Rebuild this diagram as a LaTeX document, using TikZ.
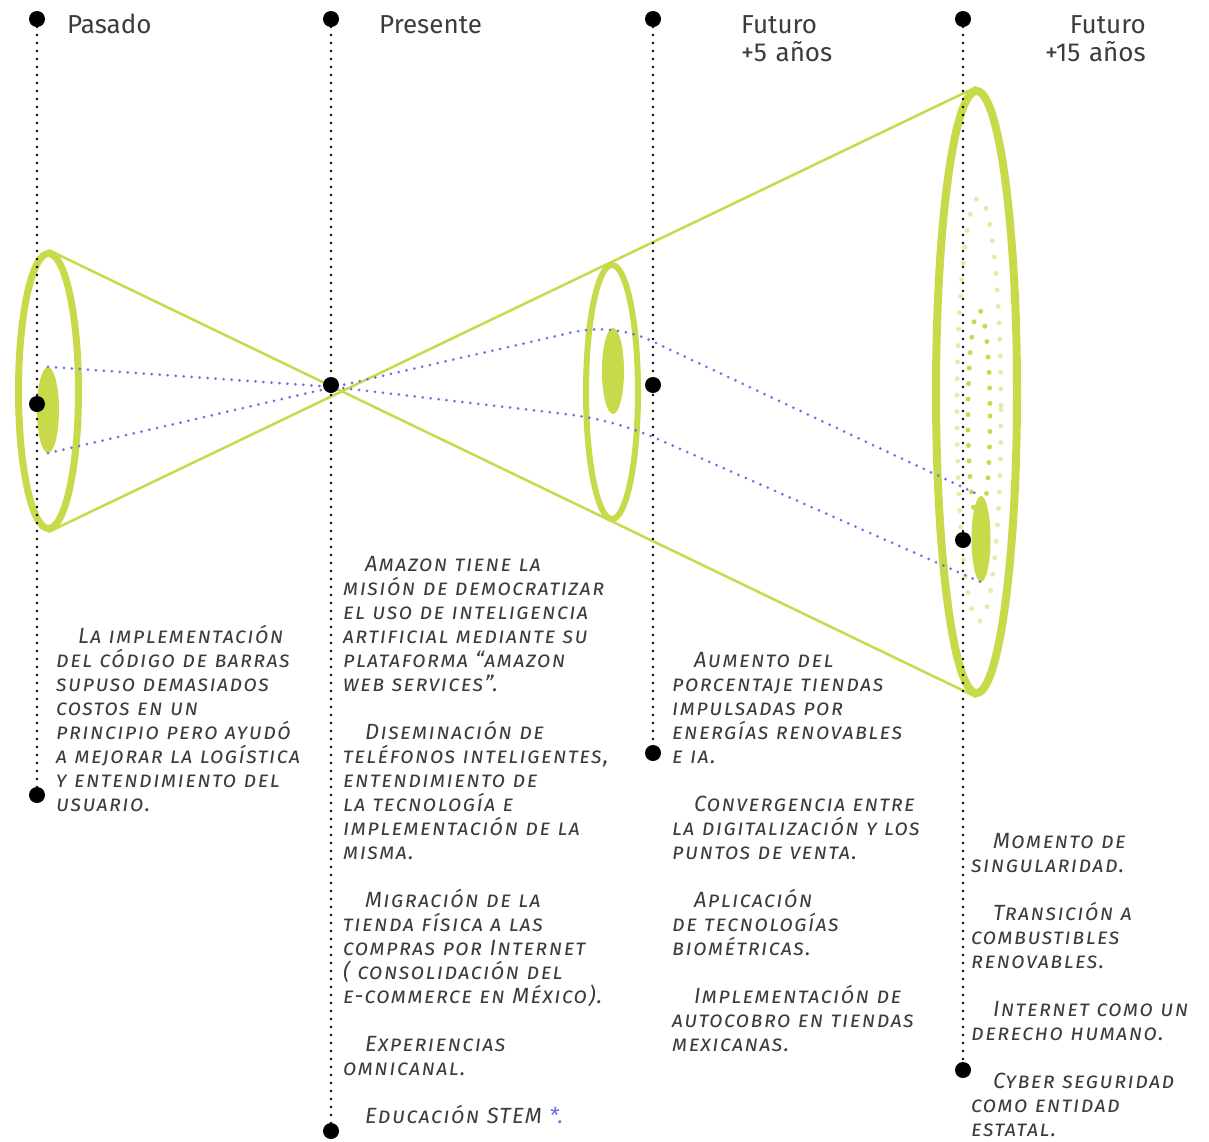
\documentclass[tikz,border=0pt]{standalone}
\usepackage{fontspec}
\setmainfont{Fira Sans}
\usetikzlibrary{shapes.geometric}
\definecolor{lime}{RGB}{200, 218, 74}
\definecolor{limelight}{RGB}{226, 236, 172}
\definecolor{trendblue}{RGB}{104, 114, 232}
\definecolor{ink}{RGB}{60, 60, 60}

\begin{document}
\begin{tikzpicture}[x=1pt,y=-1pt]
    \tikzstyle{hito} = [circle, fill=black, inner sep=0pt, minimum size=16pt];
    \tikzstyle{timeline} = [draw=black, line width=2.6pt, line cap=round, dash pattern=on 0pt off 8pt];
    \tikzstyle{ring} = [ellipse, draw=lime, inner sep=0pt];
    \tikzstyle{core} = [ellipse, fill=lime, inner sep=0pt, minimum width=22pt, minimum height=86pt];
    \tikzstyle{cone} = [draw=lime, line width=2.5pt];
    \tikzstyle{dotring} = [line width=5pt, line cap=round];
    \tikzstyle{trend} = [draw=trendblue, line width=3pt, line cap=round, dash pattern=on 0pt off 8pt];
    \tikzstyle{era} = [font=\fontsize{26}{28}\selectfont, text=ink, inner sep=0pt, align=left];
    \tikzstyle{note} = [font=\fontsize{22}{24}\selectfont\itshape\scshape\addfontfeature{LetterSpace=6},
    text=ink, align=left, text width=320pt, inner sep=0pt, anchor=base west];
    \useasboundingbox (0,0) rectangle (1209,1141);

    % rings of the cone
    \node [ring, line width=7pt, minimum width=60pt, minimum height=275pt] (ring1) at (48.5,391) {};
    \node [ring, line width=6pt, minimum width=52pt, minimum height=254pt] (ring3) at (612,392) {};
    \node [ring, line width=8pt, minimum width=81pt, minimum height=602pt] (ring4) at (976.5,392) {};
    \draw [dotring, draw=limelight, dash pattern=on 0pt off 16.5pt] (979,409.5) ellipse [x radius=22, y radius=212];
    \draw [dotring, draw=lime, dash pattern=on 0pt off 15.5pt] (979,416) ellipse [x radius=11, y radius=106];
    \node [core] (core1) at (48,410) {};
    \node [core] (core3) at (613,371) {};
    \node [core, minimum width=19pt] (core4) at (981,539) {};
    \draw [cone] (ring1.north) -- (ring4.south);
    \draw [cone] (ring1.south) -- (ring4.north);

    % trends
    \coordinate (pivot) at (334,387);
    \draw [trend] (core1.south) -- (pivot) -- (565,334) .. controls (590,327) and (625,326) .. (660,345) -- (core4.north);
    \draw [trend] (core1.north) -- (pivot) -- (565,414) .. controls (600,418) and (630,427) .. (660,440) -- (core4.south);

    % timelines
    \node [hito] (pasado) at (37,19) {};
    \node [hito] (pasadoA) at (37,404) {};
    \node [hito] (pasadoB) at (37,795) {};
    \node [hito] (presente) at (331,19) {};
    \node [hito] (presenteA) at (331,385) {};
    \node [hito] (presenteB) at (331,1131) {};
    \node [hito] (futuro) at (653,19) {};
    \node [hito] (futuroA) at (653,385) {};
    \node [hito] (futuroB) at (653,753) {};
    \node [hito] (lejano) at (963,19) {};
    \node [hito] (lejanoA) at (963,540) {};
    \node [hito] (lejanoB) at (963,1070) {};
    \draw [timeline] (pasado.center) -- (pasadoB.center);
    \draw [timeline] (presente.center) -- (presenteB.center);
    \draw [timeline] (futuro.center) -- (futuroB.center);
    \draw [timeline] (lejano.center) -- (lejanoB.center);

    % headings
    \node [era, anchor=base west] (tPasado) at (67,33) {Pasado};
    \node [era, anchor=base west] (tPresente) at (379,33) {Presente};
    \node [era, anchor=base west, text width=120pt] (tFuturo) at (741,33) {Futuro\\ +5 años};
    \node [era, anchor=base east, text width=110pt, align=right] (tLejano) at (1146,33) {Futuro\\ +15 años};

    % notes
    \node [note] (nota1) at (56,643) {\hspace*{22pt}La implementación\\ del código de barras\\ supuso demasiados\\
    costos en un\\ principio pero ayudó\\ a mejorar la logística\\ y entendimiento del\\ usuario.};
    \node [note] (nota2) at (343,571) {\hspace*{22pt}Amazon tiene la\\ misión de democratizar\\ el uso de inteligencia\\
    artificial mediante su\\ plataforma “amazon\\ web services”.\\[24pt]
    \hspace*{22pt}Diseminación de\\ teléfonos inteligentes,\\ entendimiento de\\ la tecnología e\\ implementación de la\\ misma.\\[24pt]
    \hspace*{22pt}Migración de la\\ tienda física a las\\ compras por Internet\\ ( consolidación del\\ e-commerce en México).\\[24pt]
    \hspace*{22pt}Experiencias\\ omnicanal.\\[24pt]
    \hspace*{22pt}Educación STEM {\color{trendblue}*.}};
    \node [note] (nota3) at (672,667) {\hspace*{22pt}Aumento del\\ porcentaje tiendas\\ impulsadas por\\ energías renovables\\ e ia.\\[24pt]
    \hspace*{22pt}Convergencia entre\\ la digitalización y los\\ puntos de venta.\\[24pt]
    \hspace*{22pt}Aplicación\\ de tecnologías\\ biométricas.\\[24pt]
    \hspace*{22pt}Implementación de\\ autocobro en tiendas\\ mexicanas.};
    \node [note] (nota4) at (971,848) {\hspace*{22pt}Momento de\\ singularidad.\\[24pt]
    \hspace*{22pt}Transición a\\ combustibles\\ renovables.\\[24pt]
    \hspace*{22pt}Internet como un\\ derecho humano.\\[24pt]
    \hspace*{22pt}Cyber seguridad\\ como entidad\\ estatal.};
\end{tikzpicture}
\end{document}
